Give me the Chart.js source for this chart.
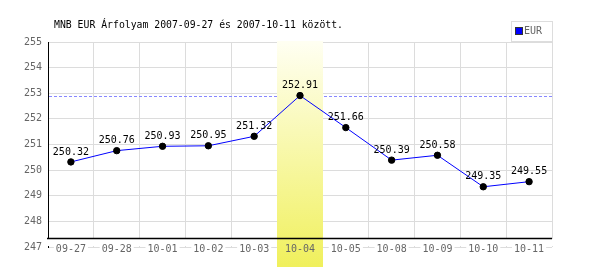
<!DOCTYPE html>
<html>
<head>
<meta charset="utf-8">
<script src="https://cdn.jsdelivr.net/npm/chart.js@4/dist/chart.umd.min.js"></script>
<style>
  html, body { margin: 0; padding: 0; background: #fff; }
  #wrap { width: 600px; height: 270px; }
</style>
</head>
<body>
<div id="wrap"><canvas id="chart" width="600" height="270"></canvas></div>
<script>
const titleText = "MNB EUR Árfolyam 2007-09-27 és 2007-10-11 között.";
const seriesName = "EUR";
const dates = ["09-27", "09-28", "10-01", "10-02", "10-03", "10-04", "10-05", "10-08", "10-09", "10-10", "10-11"];
const rates = [250.32, 250.76, 250.93, 250.95, 251.32, 252.91, 251.66, 250.39, 250.58, 249.35, 249.55];
const yTicks = [247, 248, 249, 250, 251, 252, 253, 254, 255];
const highlightDate = "10-04";

const MONO = "'DejaVu Sans Mono', 'Liberation Mono', monospace";
const highlightIndex = dates.indexOf(highlightDate);
const maxRate = Math.max(...rates);

// band, dashed max line, x axis line, title, legend, value labels
const decorations = {
  id: "decorations",
  beforeDatasetsDraw(chart) {
    const { ctx, chartArea: a, scales: { x, y } } = chart;
    const axisY = a.bottom - 8.5;
    ctx.save();
    // grid stops at the axis line
    ctx.fillStyle = "#fff";
    ctx.fillRect(a.left - 1, axisY + 0.5, a.right - a.left + 2, a.bottom - axisY - 1.5);
    // dashed max line
    const my = Math.round(y.getPixelForValue(maxRate)) + 0.5;
    ctx.strokeStyle = "#8888ff";
    ctx.lineWidth = 1;
    ctx.setLineDash([3, 2]);
    ctx.beginPath();
    ctx.moveTo(a.left + 1, my);
    ctx.lineTo(a.right, my);
    ctx.stroke();
    ctx.setLineDash([]);
    // highlighted day
    const half = (x.getPixelForValue(1) - x.getPixelForValue(0)) / 2;
    const cx = x.getPixelForValue(highlightIndex);
    const g = ctx.createLinearGradient(0, a.top, 0, chart.height - 3);
    g.addColorStop(0, "#fffff2");
    g.addColorStop(1, "#f0f05c");
    ctx.fillStyle = g;
    ctx.fillRect(Math.round(cx - half), a.top - 1, Math.round(2 * half), chart.height - 3 - a.top + 1);
    // x axis line
    ctx.strokeStyle = "#000";
    ctx.lineWidth = 1.3;
    ctx.beginPath();
    ctx.moveTo(a.left - 1, axisY);
    ctx.lineTo(a.right, axisY);
    ctx.stroke();
    ctx.restore();
  },
  afterDatasetsDraw(chart) {
    const { ctx } = chart;
    const meta = chart.getDatasetMeta(0);
    ctx.save();
    ctx.font = "10px " + MONO;
    ctx.fillStyle = "#000";
    ctx.textAlign = "center";
    ctx.textBaseline = "middle";
    meta.data.forEach((pt, i) => {
      ctx.fillText(rates[i].toFixed(2), pt.x, pt.y - 10);
    });
    // title
    ctx.textAlign = "left";
    ctx.font = "9.8px " + MONO;
    ctx.fillText(titleText, 54, 25);
    // legend
    ctx.fillStyle = "#fff";
    ctx.fillRect(511, 21, 41, 20);
    ctx.strokeStyle = "#dddddd";
    ctx.lineWidth = 1;
    ctx.strokeRect(511.5, 21.5, 41, 20);
    ctx.fillStyle = "#0000ff";
    ctx.fillRect(516, 28, 6, 6);
    ctx.strokeStyle = "#333";
    ctx.strokeRect(515.5, 27.5, 7, 7);
    ctx.fillStyle = "#666";
    ctx.font = "10px " + MONO;
    ctx.fillText(seriesName, 524, 31.5);
    ctx.restore();
  }
};

new Chart(document.getElementById("chart"), {
  type: "line",
  data: {
    labels: dates,
    datasets: [{
      label: seriesName,
      data: rates,
      borderColor: "#0000ff",
      borderWidth: 1,
      backgroundColor: "#000",
      pointBackgroundColor: "#000",
      pointBorderColor: "#000",
      pointRadius: 3.2,
      pointBorderWidth: 1,
      tension: 0,
      fill: false
    }]
  },
  options: {
    responsive: false,
    animation: false,
    events: [],
    layout: { padding: { left: 0, right: 48, top: 42, bottom: 0 } },
    plugins: {
      legend: { display: false },
      title: { display: false },
      tooltip: { enabled: false }
    },
    scales: {
      x: {
        type: "category",
        offset: true,
        // labels sit on the 247 grid line, so don't clip them to the axis box
        afterFit: s => { s.height = 23; s._computeLabelArea = () => undefined; },
        grid: { offset: true, color: "#dcdcdc", drawTicks: false },
        border: { display: false },
        ticks: {
          z: 1,
          padding: -4,
          color: "#666",
          font: { family: MONO, size: 10 },
          maxRotation: 0,
          autoSkip: false,
          showLabelBackdrop: true,
          backdropPadding: { left: 2, right: 2, top: 0, bottom: 0 },
          backdropColor: c => (c.index === highlightIndex ? "rgba(0,0,0,0)" : "#fff")
        }
      },
      y: {
        min: yTicks[0],
        max: yTicks[yTicks.length - 1],
        afterFit: s => { s.width = 48; },
        afterBuildTicks: s => { s.ticks = yTicks.map(v => ({ value: v })); },
        grid: { color: "#dcdcdc", drawTicks: false },
        border: { color: "#000", width: 1 },
        ticks: {
          padding: 6,
          color: "#666",
          font: { family: MONO, size: 10 }
        }
      }
    }
  },
  plugins: [decorations]
});
</script>
</body>
</html>
